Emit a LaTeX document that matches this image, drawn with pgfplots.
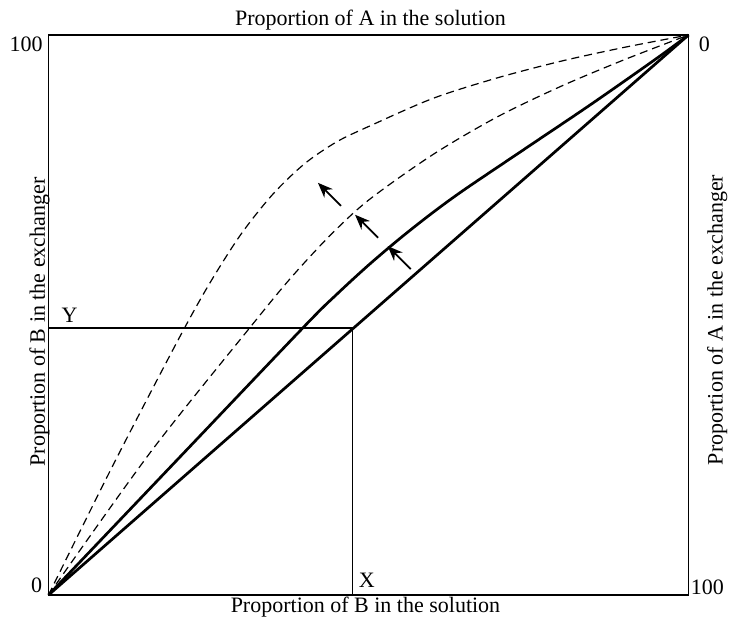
\documentclass[border=0pt]{standalone}
\usepackage{fontspec}
\setmainfont{Liberation Serif}
\usepackage{pgfplots}
\pgfplotsset{compat=1.18}
\usetikzlibrary{arrows.meta}

\begin{document}
\begin{tikzpicture}[font=\fontsize{11}{13}\selectfont]
\begin{axis}[
    at={(0,0)}, anchor=south west,
    scale only axis,
    width=320pt, height=280pt,
    xmin=0, xmax=100, ymin=0, ymax=100,
    axis line style={line width=0.9pt},
    xtick=\empty, ytick=\empty,
    clip=false,
]
% ion-exchange isotherms: straight diagonal (no selectivity) and curves of growing selectivity
\addplot[line width=1.35pt] coordinates {(0,0) (100,100)};
\addplot[line width=1.35pt, smooth] coordinates {
    (0,0) (20,24) (40,48) (45,53.65) (50,58.9) (55,63.75) (60,68.25)
    (65,72.4) (75,80.1) (85,87.8) (95,95.8) (100,100)};
\addplot[line width=0.6pt, dash pattern=on 4pt off 2.5pt, smooth] coordinates {
    (0,0) (16,25.6) (32,48.5) (38,56.8) (44,64.2) (50,70.5)
    (60,78.6) (70,85.3) (80,90.8) (90,95.6) (100,100)};
\addplot[line width=0.6pt, dash pattern=on 4pt off 2.5pt, smooth] coordinates {
    (0,0) (10,23) (20,45) (25,55.3) (30,64.3) (35,71.5) (40,77)
    (45,80.9) (50,83.65) (60,88.65) (70,92.3) (80,95.3) (90,97.8) (100,100)};

% the point (X, Y) on the diagonal
\addplot[line width=0.85pt] coordinates {(0,47.7) (47.5,47.7) (47.5,0)};

% arrows showing increasing selectivity
\addplot[line width=0.9pt, -{Stealth[length=7.5pt,width=6pt]}] coordinates {(56.6,58.2) (53.0,62.3)};
\addplot[line width=0.9pt, -{Stealth[length=7.5pt,width=6pt]}] coordinates {(51.5,63.8) (47.9,67.9)};
\addplot[line width=0.9pt, -{Stealth[length=7.5pt,width=6pt]}] coordinates {(45.7,69.5) (42.1,73.6)};

\node[anchor=base west, xshift=3pt, yshift=2.5pt] at (axis cs:0,47.7) {Y};
\node[anchor=base west, xshift=3pt, yshift=3.5pt, inner sep=0pt] at (axis cs:47.5,0) {X};

% corner values
\node[anchor=base east, inner sep=0pt, xshift=-2.75pt, yshift=-8.5pt] at (rel axis cs:0,1) {100};
\node[anchor=base east, inner sep=0pt, xshift=-3pt, yshift=1pt] at (rel axis cs:0,0) {0};
\node[anchor=base west, inner sep=0pt, xshift=5pt, yshift=-8.5pt] at (rel axis cs:1,1) {0};
\node[anchor=base west, inner sep=0pt, xshift=1pt, yshift=0pt] at (rel axis cs:1,0) {100};

% axis titles on all four sides (shifts of rotated nodes are in the rotated frame)
\node[anchor=base, inner sep=0pt, yshift=4.65pt, xshift=1pt] at (rel axis cs:0.5,1) {Proportion of A in the solution};
\node[anchor=base, inner sep=0pt, yshift=-9pt, xshift=-1.5pt] at (rel axis cs:0.5,0) {Proportion of B in the solution};
\node[anchor=base, inner sep=0pt, rotate=90, xshift=-3.5pt, yshift=1.75pt] at (rel axis cs:0,0.5) {Proportion of B in the exchanger};
\node[anchor=base, inner sep=0pt, rotate=90, xshift=-2.5pt, yshift=-17pt] at (rel axis cs:1,0.5) {Proportion of A in the exchanger};
\end{axis}
\path (-24.25pt,-12.5pt) rectangle (340.25pt,297.5pt);
\end{tikzpicture}
\end{document}
